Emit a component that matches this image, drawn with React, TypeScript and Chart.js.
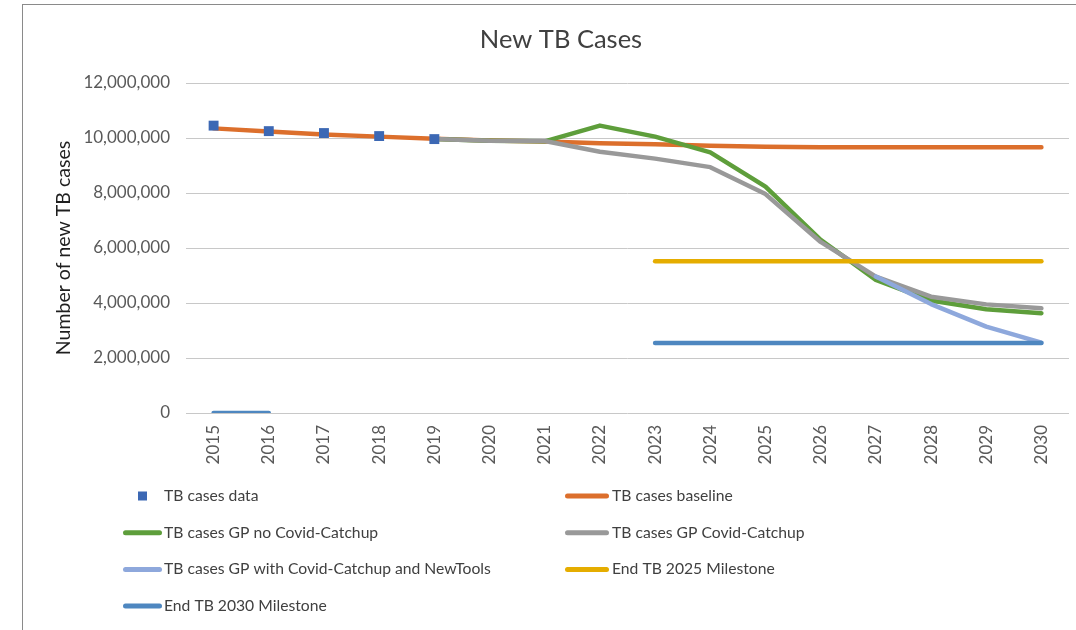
import React, { useEffect, useRef } from "react";
import { Chart, registerables } from "chart.js";

Chart.register(...registerables);

const years = ["2015", "2016", "2017", "2018", "2019", "2020", "2021", "2022", "2023", "2024", "2025", "2026", "2027", "2028", "2029", "2030"];

const casesData = [10450000, 10250000, 10180000, 10070000, 9960000, null, null, null, null, null, null, null, null, null, null, null];
const casesBaseline = [10350000, 10240000, 10130000, 10050000, 9970000, 9910000, 9870000, 9810000, 9770000, 9720000, 9680000, 9660000, 9660000, 9660000, 9660000, 9660000];
const gpNoCatchup = [null, null, null, null, 9960000, 9900000, 9880000, 10450000, 10050000, 9480000, 8230000, 6300000, 4840000, 4090000, 3770000, 3630000];
const gpCatchup = [null, null, null, null, 9960000, 9900000, 9890000, 9500000, 9250000, 8940000, 7960000, 6220000, 4960000, 4230000, 3950000, 3810000];
const gpNewTools = [null, null, null, null, null, null, null, null, null, null, null, null, 4960000, 3960000, 3140000, 2560000];
const milestone2025 = [null, null, null, null, null, null, null, null, 5520000, 5520000, 5520000, 5520000, 5520000, 5520000, 5520000, 5520000];
const milestone2030 = [0, 0, null, null, null, null, null, null, 2550000, 2550000, 2550000, 2550000, 2550000, 2550000, 2550000, 2550000];

const yTicks = { min: 0, max: 12000000, step: 2000000 };

const FONT = "Lato";

const frameTitlePlugin = {
  id: "frameTitle",
  beforeDraw(chart: any) {
    const ctx = chart.ctx;
    ctx.save();
    ctx.fillStyle = "#ffffff";
    ctx.fillRect(0, 0, chart.width, chart.height);
    ctx.strokeStyle = "#8a8a8a";
    ctx.lineWidth = 1;
    ctx.strokeRect(22.5, 4.5, 1200, 800);
    ctx.fillStyle = "#404040";
    ctx.font = `25.5px ${FONT}`;
    ctx.textAlign = "center";
    ctx.textBaseline = "alphabetic";
    ctx.fillText("New TB Cases", 561, 48);
    ctx.restore();
  },
};

const legendPlugin = {
  id: "gridLegend",
  afterDraw(chart: any) {
    const ctx = chart.ctx;
    const cols = [
      { x1: 123, x2: 162, tx: 164 },
      { x1: 565, x2: 609, tx: 612 },
    ];
    const row0 = 496;
    const rowH = 36.7;
    chart.data.datasets.forEach((ds: any, i: number) => {
      const c = cols[i % 2];
      const y = row0 + Math.floor(i / 2) * rowH;
      ctx.save();
      if (ds.showLine === false) {
        ctx.fillStyle = ds.backgroundColor;
        const cx = (c.x1 + c.x2) / 2;
        ctx.fillRect(cx - 4.5, y - 4.5, 9, 9);
      } else {
        ctx.strokeStyle = ds.borderColor;
        ctx.lineWidth = 5;
        ctx.lineCap = "round";
        ctx.beginPath();
        ctx.moveTo(c.x1 + 2.5, y);
        ctx.lineTo(c.x2 - 2.5, y);
        ctx.stroke();
      }
      ctx.fillStyle = "#404040";
      ctx.font = `15.7px ${FONT}`;
      ctx.textAlign = "left";
      ctx.textBaseline = "middle";
      ctx.fillText(ds.label, c.tx, y);
      ctx.restore();
    });
  },
};

function lineDs(label: string, data: (number | null)[], color: string, order: number) {
  return {
    label,
    data,
    borderColor: color,
    backgroundColor: color,
    borderWidth: 4.5,
    borderCapStyle: "round" as const,
    borderJoinStyle: "round" as const,
    pointRadius: 0,
    pointHoverRadius: 0,
    tension: 0,
    fill: false,
    order,
  };
}

export default function App() {
  const ref = useRef<HTMLCanvasElement>(null);

  useEffect(() => {
    if (!ref.current) return;
    const chart = new Chart(ref.current, {
      type: "line",
      data: {
        labels: years,
        datasets: [
          {
            label: "TB cases data",
            data: casesData,
            showLine: false,
            pointStyle: "rect",
            pointRadius: 7,
            pointBorderWidth: 0,
            backgroundColor: "#3C68B4",
            borderColor: "#3C68B4",
            order: 0,
          } as any,
          lineDs("TB cases baseline", casesBaseline, "#DC6F2C", 6),
          lineDs("TB cases GP no Covid-Catchup", gpNoCatchup, "#5E9E3B", 5),
          lineDs("TB cases GP Covid-Catchup", gpCatchup, "#999999", 4),
          lineDs("TB cases GP with Covid-Catchup and NewTools", gpNewTools, "#8EA8DC", 3),
          lineDs("End TB 2025 Milestone", milestone2025, "#E5AD00", 2),
          lineDs("End TB 2030 Milestone", milestone2030, "#4E87C0", 1),
        ],
      },
      options: {
        responsive: false,
        animation: false,
        devicePixelRatio: 1,
        events: [],
        layout: { padding: { top: 83, left: 0, right: 0, bottom: 0 } },
        plugins: {
          legend: { display: false },
          title: { display: false },
          tooltip: { enabled: false },
        },
        scales: {
          x: {
            offset: true,
            grid: { display: false, drawTicks: false },
            border: { display: false },
            ticks: {
              autoSkip: false,
              minRotation: 90,
              maxRotation: 90,
              padding: 12,
              color: "#595959",
              font: { family: FONT, size: 17 },
            },
            afterFit: (s: any) => {
              s.height = 217;
            },
          },
          y: {
            min: yTicks.min,
            max: yTicks.max,
            border: { display: false },
            grid: { color: "#c8c8c8", lineWidth: 1, drawTicks: false },
            ticks: {
              stepSize: yTicks.step,
              padding: 16,
              color: "#595959",
              font: { family: FONT, size: 17 },
              callback: (v: any) => Number(v).toLocaleString("en-US"),
            },
            title: {
              display: true,
              text: "Number of new TB cases",
              color: "#1f1f1f",
              font: { family: FONT, size: 19.5 },
              padding: { top: 52, bottom: 0 },
            },
            afterFit: (s: any) => {
              s.width = 186;
            },
          },
        },
      },
      plugins: [frameTitlePlugin, legendPlugin],
    });
    return () => chart.destroy();
  }, []);

  return (
    <div style={{ position: "fixed", left: 0, top: 0, width: 1076, height: 630, background: "#fff" }}>
      <canvas ref={ref} width={1076} height={630} style={{ display: "block" }} />
    </div>
  );
}
